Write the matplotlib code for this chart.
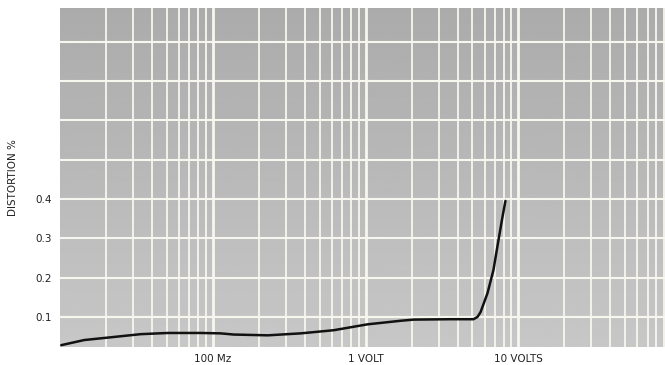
import numpy as np
import matplotlib.pyplot as plt
from matplotlib.ticker import FixedLocator, NullFormatter

# curve (volts, distortion %)
volts = [0.0102, 0.0144, 0.0215, 0.0338, 0.0508, 0.0835, 0.1125, 0.137,
         0.229, 0.376, 0.618, 1.03, 1.69, 2.06, 3.59, 5.08, 5.4, 5.65,
         6.27, 6.86, 7.4, 7.86, 8.22]
distortion = [0.028, 0.041, 0.048, 0.056, 0.059, 0.059, 0.058, 0.055,
              0.053, 0.058, 0.066, 0.081, 0.090, 0.093, 0.094, 0.094, 0.100, 0.112,
              0.160, 0.219, 0.295, 0.354, 0.395]

x_ticks = [0.1, 1, 10]
x_labels = ["100 Mz", "1 VOLT", "10 VOLTS"]
y_ticks = [0.1, 0.2, 0.3, 0.4]
y_labels = ["0.1", "0.2", "0.3", "0.4"]

fig = plt.figure(figsize=(6.65, 3.65), dpi=100)
ax = fig.add_axes([0.0902, 0.049, 0.9098, 0.929])
ax.set_xscale("log")
ax.set_xlim(0.01, 91)
ax.set_ylim(0.023, 0.886)

# gray paper shading, a bit lighter towards the bottom
grad = np.linspace(0, 1, 256).reshape(-1, 1)
ax.imshow(grad, extent=[0, 1, 0, 1], transform=ax.transAxes, aspect="auto",
          cmap="gray", vmin=-6.1, vmax=3.0, zorder=0, origin="upper")

grid_col = "#f7f7ef"
minor = [m * 10.0 ** d for d in range(-2, 2) for m in range(2, 10)]
for v in minor:
    ax.axvline(v, color=grid_col, lw=1.3, zorder=1)
for v in [0.1, 1, 10]:
    ax.axvline(v, color=grid_col, lw=2.0, zorder=1)
for h in np.arange(0.1, 0.85, 0.1):
    ax.axhline(h, color=grid_col, lw=1.5, zorder=1)

ax.plot(volts, distortion, color="#111111", lw=1.8, zorder=3,
        solid_joinstyle="round", solid_capstyle="round")

ax.xaxis.set_major_locator(FixedLocator(x_ticks))
ax.set_xticklabels(x_labels)
ax.xaxis.set_minor_formatter(NullFormatter())
ax.set_yticks(y_ticks)
ax.set_yticklabels(y_labels)
ax.tick_params(axis="both", which="both", length=0, labelsize=7.5, colors="#222222")
ax.tick_params(axis="x", pad=5)
ax.tick_params(axis="y", pad=6)
ax.set_ylabel("DISTORTION %", fontsize=7.5, color="#222222", labelpad=12)
for s in ax.spines.values():
    s.set_visible(False)

fig.savefig("out.png", dpi=100)
